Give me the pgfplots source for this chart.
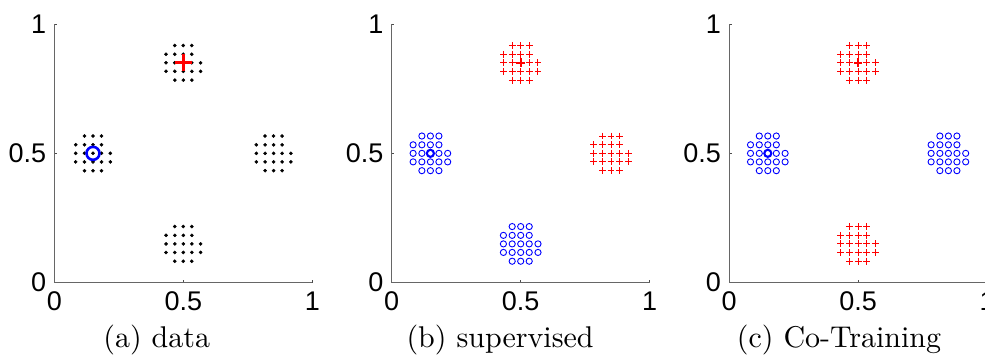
\documentclass[border=0pt]{standalone}
\usepackage{fontspec}
\usepackage{pgfplots}
\usepackage{pgfplotstable}
\pgfplotsset{compat=1.18}
\newfontfamily\tickfamily{Liberation Sans}
\newfontfamily\capfamily{lmroman10-regular.otf}
\newcommand{\tickfont}{\tickfamily\fontsize{27}{27}\selectfont}
\newcommand{\capfont}{\capfamily\fontsize{30}{30}\selectfont}

\pgfplotstableread{
x y
0.467 0.917
0.500 0.917
0.533 0.917
0.433 0.883
0.467 0.883
0.500 0.883
0.533 0.883
0.433 0.850
0.467 0.850
0.500 0.850
0.533 0.850
0.567 0.850
0.433 0.817
0.467 0.817
0.500 0.817
0.533 0.817
0.567 0.817
0.467 0.783
0.500 0.783
0.533 0.783
}\topcl

\pgfplotstableread{
x y
0.117 0.567
0.150 0.567
0.183 0.567
0.083 0.533
0.117 0.533
0.150 0.533
0.183 0.533
0.083 0.500
0.117 0.500
0.150 0.500
0.183 0.500
0.217 0.500
0.083 0.467
0.117 0.467
0.150 0.467
0.183 0.467
0.217 0.467
0.117 0.433
0.150 0.433
0.183 0.433
}\leftcl

\pgfplotstableread{
x y
0.817 0.567
0.850 0.567
0.883 0.567
0.783 0.533
0.817 0.533
0.850 0.533
0.883 0.533
0.783 0.500
0.817 0.500
0.850 0.500
0.883 0.500
0.917 0.500
0.783 0.467
0.817 0.467
0.850 0.467
0.883 0.467
0.917 0.467
0.817 0.433
0.850 0.433
0.883 0.433
}\rightcl

\pgfplotstableread{
x y
0.467 0.217
0.500 0.217
0.533 0.217
0.433 0.183
0.467 0.183
0.500 0.183
0.533 0.183
0.433 0.150
0.467 0.150
0.500 0.150
0.533 0.150
0.567 0.150
0.433 0.117
0.467 0.117
0.500 0.117
0.533 0.117
0.567 0.117
0.467 0.083
0.500 0.083
0.533 0.083
}\bottomcl

\pgfplotsset{
  panel/.style={
    scale only axis, width=258pt, height=258.7pt,
    xmin=0, xmax=1, ymin=0, ymax=1,
    axis x line*=bottom, axis y line*=left,
    axis line style={draw=black!60, line width=0.8pt},
    xtick={0,0.5,1}, ytick={0,0.5,1},
    xticklabels={0,0.5,1}, yticklabels={0,0.5,1},
    tick align=inside, major tick length=2.5pt,
    tick style={draw=black!70, line width=0.6pt},
    ticklabel style={font=\tickfont},
    xticklabel style={inner sep=0pt, yshift=-9pt},
    yticklabel style={inner sep=0pt, xshift=-8pt},
    /pgf/number format/assume math mode=true,
    clip=false,
  },
  dots/.style={only marks, mark=*, mark size=1.6pt, black},
  bluo/.style={only marks, mark=o, mark size=3.1pt, color=blue, mark options={draw=blue, line width=0.9pt}},
  redp/.style={only marks, mark=+, mark size=3.4pt, color=red, mark options={draw=red, line width=1pt}},
}

\begin{document}
\begin{tikzpicture}
% (a) data
\begin{axis}[panel, at={(0pt,0pt)}]
\addplot[dots] table {\topcl};
\addplot[dots] table {\leftcl};
\addplot[dots] table {\rightcl};
\addplot[dots] table {\bottomcl};
\addplot[only marks, mark=+, mark size=8.5pt, red, mark options={draw=red, line width=2.6pt}] coordinates {(0.5,0.85)};
\addplot[only marks, mark=o, mark size=6.5pt, blue, mark options={draw=blue, line width=2.6pt}] coordinates {(0.15,0.5)};
\end{axis}
% (b) supervised
\begin{axis}[panel, at={(337.4pt,0pt)}]
\addplot[redp] table {\topcl};
\addplot[bluo] table {\leftcl};
\addplot[redp] table {\rightcl};
\addplot[bluo] table {\bottomcl};
\addplot[only marks, mark=+, mark size=4.3pt, red, mark options={draw=red, line width=2pt}] coordinates {(0.5,0.85)};
\addplot[only marks, mark=o, mark size=3.6pt, blue, mark options={draw=blue, line width=2pt}] coordinates {(0.15,0.5)};
\end{axis}
% (c) Co-Training
\begin{axis}[panel, at={(674.8pt,0pt)}]
\addplot[redp] table {\topcl};
\addplot[bluo] table {\leftcl};
\addplot[bluo] table {\rightcl};
\addplot[redp] table {\bottomcl};
\addplot[only marks, mark=+, mark size=4.3pt, red, mark options={draw=red, line width=2pt}] coordinates {(0.5,0.85)};
\addplot[only marks, mark=o, mark size=3.6pt, blue, mark options={draw=blue, line width=2pt}] coordinates {(0.15,0.5)};
\end{axis}
\node[anchor=base, font=\capfont, inner sep=0pt] at (102.4pt,-65.3pt) {(a) data};
\node[anchor=base, font=\capfont, inner sep=0pt] at (445.8pt,-65.3pt) {(b) supervised};
\node[anchor=base, font=\capfont, inner sep=0pt] at (784.7pt,-65.3pt) {(c) Co-Training};
\pgfresetboundingbox
\path[use as bounding box] (-54.3pt,-72.3pt) rectangle (930.7pt,282.7pt);
\end{tikzpicture}
\end{document}
